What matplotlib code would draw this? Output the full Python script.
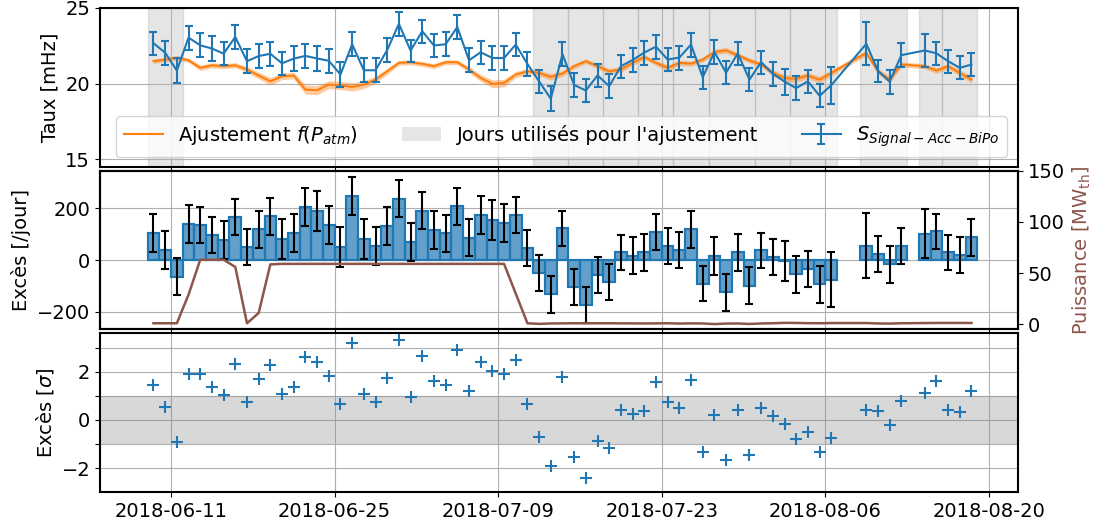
import numpy as np
import pandas as pd
import matplotlib
matplotlib.use('Agg')
import matplotlib.pyplot as plt
import matplotlib.dates as mdates
from matplotlib.patches import Patch

plt.rcParams['font.size'] = 14
plt.rcParams['axes.linewidth'] = 1.5

# jours de mesure (pas de donnees les 7, 8 et 13 aout)
jours = pd.date_range('2018-06-09', '2018-08-18')
jours = jours.drop(pd.to_datetime(['2018-08-07', '2018-08-08', '2018-08-13']))
x = mdates.date2num(jours) + 0.5

# taux S_Signal-Acc-BiPo [mHz]
taux = [22.67, 22.04, 20.86, 23.04, 22.53, 22.32, 21.98, 23.08, 21.48, 21.82, 21.97,
        21.34, 21.65, 21.83, 21.66, 21.51, 20.60, 22.60, 20.88, 20.88, 22.22, 23.95,
        22.18, 23.46, 22.52, 22.60, 23.74, 21.54, 22.07, 21.69, 21.69, 22.58, 21.30,
        20.14, 19.00, 21.94, 19.91, 19.54, 20.54, 19.83, 21.15, 21.56, 22.05, 22.44,
        21.59, 21.72, 22.58, 20.42, 22.08, 20.73, 21.99, 20.26, 21.42,
        20.65, 20.13, 19.70, 20.15, 19.19, 19.89,
        22.63, 20.84, 20.13, 21.88,
        22.19, 22.00, 21.48, 21.04, 21.26]
taux_err = [0.77, 0.80, 0.81, 0.79, 0.79, 0.80, 0.77, 0.79, 0.79, 0.78, 0.78,
            0.77, 0.81, 0.79, 0.80, 0.80, 0.80, 0.79, 0.79, 0.79, 0.79, 0.78,
            0.73, 0.77, 0.76, 0.79, 0.79, 0.79, 0.77, 0.78, 0.78, 0.77, 0.77,
            0.78, 0.83, 0.79, 0.79, 0.79, 0.76, 0.78, 0.77, 0.79, 0.79, 0.79,
            0.77, 0.79, 0.79, 0.77, 0.78, 0.79, 0.78, 0.78, 0.76,
            0.78, 0.86, 0.78, 0.77, 0.75, 1.21,
            1.42, 0.75, 0.79, 0.78,
            1.07, 0.75, 0.77, 0.77, 0.77]

# ajustement f(P_atm) et son incertitude [mHz]
fit = [21.48, 21.59, 21.70, 21.54, 21.04, 21.21, 21.15, 21.21, 20.93, 20.53, 20.15,
       20.48, 20.53, 19.60, 19.56, 19.93, 19.87, 19.78, 19.93, 20.26, 20.81, 21.37,
       21.41, 21.30, 21.15, 21.41, 21.41, 20.93, 20.37, 19.98, 20.04, 20.59, 20.81,
       20.70, 20.44, 20.66, 21.15, 21.48, 21.15, 20.81, 20.93, 21.37, 21.76, 21.37,
       21.04, 21.37, 21.32, 21.59, 22.09, 22.20, 21.87, 21.53, 21.26,
       20.70, 20.37, 20.31, 20.53, 20.26, 20.70,
       22.03, 20.81, 20.26, 21.26,
       21.15, 20.86, 21.15, 20.70, 20.26]
fit_err = [0.15, 0.15, 0.15, 0.15, 0.18, 0.17, 0.17, 0.17, 0.19, 0.22, 0.25,
           0.22, 0.22, 0.30, 0.30, 0.26, 0.27, 0.28, 0.26, 0.23, 0.19, 0.16,
           0.16, 0.16, 0.17, 0.16, 0.16, 0.19, 0.23, 0.26, 0.25, 0.21, 0.19,
           0.20, 0.22, 0.20, 0.17, 0.16, 0.17, 0.19, 0.19, 0.17, 0.16, 0.17,
           0.18, 0.17, 0.17, 0.16, 0.18, 0.19, 0.17, 0.16, 0.16,
           0.20, 0.23, 0.23, 0.21, 0.23, 0.20,
           0.18, 0.19, 0.23, 0.16,
           0.17, 0.19, 0.17, 0.20, 0.23]

# exces journalier [/jour]
exces = [104, 39, -65, 140, 135, 97, 77, 166, 51, 118, 169,
         81, 103, 205, 190, 136, 50, 246, 81, 55, 131, 237,
         69, 190, 116, 103, 208, 86, 174, 154, 142, 173, 46,
         -50, -133, 122, -105, -174, -59, -85, 29, 17, 30, 108,
         54, 38, 118, -91, 16, -125, 29, -99, 37,
         13, -3, -55, -35, -94, -76,
         55, 23, -16, 55,
         102, 111, 30, 20, 88]
exces_err = [72, 74, 72, 73, 70, 71, 72, 71, 70, 71, 72,
             76, 74, 74, 78, 74, 76, 73, 76, 74, 72, 71,
             72, 72, 72, 71, 71, 72, 72, 76, 74, 69, 69,
             69, 71, 69, 70, 71, 69, 70, 68, 70, 71, 69,
             71, 69, 70, 69, 72, 71, 71, 71, 69,
             70, 78, 72, 69, 72, 106,
             125, 69, 71, 70,
             95, 67, 68, 69, 72]

# exces en nombre d'ecarts-types
sigma = [1.46, 0.53, -0.90, 1.90, 1.90, 1.36, 1.03, 2.33, 0.74, 1.71, 2.28,
         1.06, 1.36, 2.63, 2.40, 1.83, 0.65, 3.19, 1.07, 0.74, 1.76, 3.31,
         0.94, 2.64, 1.63, 1.47, 2.89, 1.21, 2.39, 2.03, 1.90, 2.49, 0.65,
         -0.71, -1.90, 1.78, -1.53, -2.43, -0.86, -1.18, 0.42, 0.24, 0.39, 1.56,
         0.74, 0.51, 1.67, -1.33, 0.22, -1.67, 0.43, -1.46, 0.51,
         0.17, -0.15, -0.78, -0.51, -1.33, -0.74,
         0.43, 0.36, -0.21, 0.79,
         1.10, 1.61, 0.43, 0.31, 1.21]

# puissance moyenne du reacteur [MW_th]
puissance = [1, 1, 1, 29, 63, 63, 63, 56, 1, 11, 58.5,
             59, 59, 59, 59, 59, 59, 59, 59, 59, 59, 59,
             59, 59, 59, 59, 59, 59, 59, 59, 59, 30, 1,
             0.4, 0.8, 0.9, 1.0, 0.9, 1.0, 1.0, 0.9, 0.9, 0.8, 0.9,
             1.0, 0.7, 0.9, 0.8, 0.2, 0.7, 0.8, 0.3, 0.8,
             1.0, 1.4, 1.3, 1.1, 1.0, 1.2,
             1.2, 0.8, 0.7, 1.0,
             1.2, 1.3, 1.3, 1.3, 1.3]

# jours utilises pour l'ajustement
fenetres = [('2018-06-09', '2018-06-12'), ('2018-07-12', '2018-07-15'),
            ('2018-07-15', '2018-07-18'), ('2018-07-18', '2018-07-21'),
            ('2018-07-21', '2018-07-24'), ('2018-07-24', '2018-07-27'),
            ('2018-07-27', '2018-07-31'), ('2018-07-31', '2018-08-03'),
            ('2018-08-03', '2018-08-07'), ('2018-08-09', '2018-08-13'),
            ('2018-08-14', '2018-08-16'), ('2018-08-16', '2018-08-19')]

ticks = ['2018-06-11', '2018-06-25', '2018-07-09', '2018-07-23', '2018-08-06', '2018-08-20']

bleu = 'tab:blue'
orange = 'tab:orange'
brun = 'tab:brown'

fig, (ax1, ax2, ax3) = plt.subplots(3, 1, sharex=True, figsize=(11.01, 5.32), dpi=100)
fig.subplots_adjust(left=0.0908, right=0.9246, top=0.985, bottom=0.075, hspace=0.025)

# --- taux + ajustement
fit = np.array(fit)
fit_err = np.array(fit_err)
l_fit, = ax1.plot(x, fit, color=orange, lw=1.5, zorder=3)
ax1.fill_between(x, fit - fit_err, fit + fit_err, color=orange, alpha=0.4, lw=0, zorder=3)
for a, b in fenetres:
    ax1.axvspan(mdates.datestr2num(a), mdates.datestr2num(b), color='gray', alpha=0.2, zorder=1)
eb = ax1.errorbar(x, taux, yerr=taux_err, color=bleu, lw=1.5, capsize=3, capthick=1.5, zorder=4)
ax1.set_ylim(14.5, 25)
ax1.set_yticks([15, 20, 25])
ax1.set_ylabel('Taux [mHz]')
ax1.grid(True, zorder=0)
ax1.legend([l_fit, Patch(facecolor='gray', alpha=0.2), eb],
           ['Ajustement $f(P_{atm})$', "Jours utilisés pour l'ajustement",
            '$S_{Signal-Acc-BiPo}$'],
           loc='lower center', ncol=3, fontsize=14, columnspacing=2.25,
           bbox_to_anchor=(0.503, 0.0))

# --- exces journalier + puissance
ax2.bar(x, exces, width=1, color=bleu, alpha=0.7, edgecolor=bleu, lw=1.5, zorder=3)
ax2.bar(x, exces, width=1, fill=False, edgecolor=bleu, lw=1.5, zorder=3)
ax2.errorbar(x, exces, yerr=exces_err, fmt='none', ecolor='black', elinewidth=1.5,
             capsize=3, capthick=1.5, zorder=4)
ax2.set_ylim(-268, 345)
ax2.set_yticks([-200, 0, 200])
ax2.set_ylabel('Excès [/jour]')
ax2.grid(True, zorder=0)
ax2.set_axisbelow(True)

ax2b = ax2.twinx()
ax2b.plot(x, puissance, color=brun, lw=1.8)
ax2b.set_ylim(-5, 150)
ax2b.set_yticks([0, 50, 100, 150])
ax2b.set_ylabel(r'Puissance [MW$_{\rm th}$]', color=brun)

# --- exces en sigma
ax3.axhspan(-1, 1, color='gray', alpha=0.3, lw=0)
ax3.plot(x, sigma, '+', color=bleu, ms=9, mew=1.5)
ax3.set_ylim(-3, 3.6)
ax3.set_yticks([-2, 0, 2])
ax3.set_yticks([-1, 1, 3], minor=True)
ax3.tick_params(axis='y', which='minor', length=3.5, width=0.8)
ax3.set_ylabel(r'Excès [$\sigma$]')
ax3.grid(True, which='major')
ax3.grid(True, which='minor', axis='y')
ax3.set_axisbelow(True)

ax3.set_xticks(mdates.datestr2num(ticks))
ax3.xaxis.set_major_formatter(mdates.DateFormatter('%Y-%m-%d'))
x0 = mdates.datestr2num('2018-06-11')
ax3.set_xlim(x0 - 6.08, x0 + 72.48)

fig.savefig('out.png', dpi=100)
